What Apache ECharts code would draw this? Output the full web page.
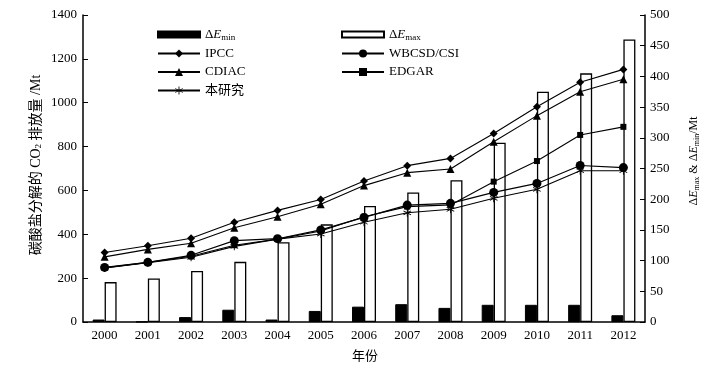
<!DOCTYPE html>
<html><head><meta charset="utf-8">
<script src="https://cdn.jsdelivr.net/npm/echarts@6/dist/echarts.min.js"></script>
<style>html,body{margin:0;padding:0;background:#fff}#c{width:725px;height:370px}</style>
</head><body><div id="c"></div>
<script>
const years = ['2000','2001','2002','2003','2004','2005','2006','2007','2008','2009','2010','2011','2012'];
const dEmin = [4, 0.5, 8, 20, 4, 18, 25, 29, 23, 28, 28, 28, 11];
const dEmax = [65, 71, 83, 98, 130, 159, 189, 211, 231, 292, 375, 405, 460];
const ipcc  = [317, 348, 382, 455, 509, 559, 643, 713, 746, 860, 982, 1093, 1152];
const cdiac = [297, 331, 359, 430, 480, 537, 622, 681, 698, 822, 941, 1050, 1107];
const wbcsd = [249, 272, 304, 371, 380, 420, 477, 533, 541, 591, 632, 714, 704];
const edgar = [247, 272, 300, 350, 378, 415, 480, 526, 534, 640, 734, 853, 890];
const study = [246, 270, 295, 345, 378, 401, 455, 498, 514, 564, 605, 690, 690];
const leftTicks = [0, 1400, 200];
const rightTicks = [0, 500, 50];

const FONT = '"Liberation Serif", "Times New Roman", "Noto Sans CJK SC", serif';
const star = 'path://M-0.5,-5L0.5,-5L0.5,5L-0.5,5Z M4.08,2.93L4.58,2.07L-4.08,-2.93L-4.58,-2.07Z M-4.58,2.07L-4.08,2.93L4.58,-2.07L4.08,-2.93Z';
const richT = {
  n: {fontFamily: FONT, fontSize: 13, color: '#000'},
  i: {fontFamily: FONT, fontSize: 13, fontStyle: 'italic', color: '#000'},
  s: {fontFamily: FONT, fontSize: 9, color: '#000', padding: [6, 0, 0, 0]}
};
const names = {min: 'ΔEmin', max: 'ΔEmax'};
function fmt(name) {
  if (name === names.min) return '{n|Δ}{i|E}{s|min}';
  if (name === names.max) return '{n|Δ}{i|E}{s|max}';
  return '{n|' + name + '}';
}
function lineS(name, data, symbol, size) {
  return {name, type: 'line', yAxisIndex: 0, data, symbol, symbolSize: size, z: 5,
    lineStyle: {color: '#000', width: 1.1}, itemStyle: {color: '#000'}};
}
function leg(data, left, top, h) {
  return {data, orient: 'vertical', left, top, itemWidth: 42, itemHeight: h, itemGap: 5.5,
    formatter: fmt, textStyle: {rich: richT, fontFamily: FONT, fontSize: 13}};
}
const plain = v => String(v);
const chart = echarts.init(document.getElementById('c'));
chart.setOption({
  animation: false,
  backgroundColor: '#fff',
  textStyle: {fontFamily: FONT},
  grid: {left: 83, right: 80, top: 15, bottom: 48},
  legend: [
    leg([{name: names.min, icon: 'rect'}], 152, 23, 6),
    leg([{name: names.max, icon: 'rect'}], 336, 23, 6),
    leg(['IPCC', 'CDIAC', '本研究'], 152, 42, 10),
    leg(['WBCSD/CSI', 'EDGAR'], 336, 42, 10)
  ],
  xAxis: {type: 'category', data: years, boundaryGap: true,
    axisLine: {lineStyle: {color: '#000', width: 1.5}},
    axisTick: {inside: true, length: 4, lineStyle: {color: '#000'}},
    axisLabel: {color: '#000', fontFamily: FONT, fontSize: 13, margin: 7}},
  yAxis: [
    {type: 'value', min: leftTicks[0], max: leftTicks[1], interval: leftTicks[2], position: 'left',
     splitLine: {show: false},
     axisLine: {show: true, lineStyle: {color: '#000', width: 1.5}},
     axisTick: {show: true, inside: true, length: 5, lineStyle: {color: '#000'}},
     axisLabel: {color: '#000', fontFamily: FONT, fontSize: 13, margin: 6, formatter: plain}},
    {type: 'value', min: rightTicks[0], max: rightTicks[1], interval: rightTicks[2], position: 'right',
     splitLine: {show: false},
     axisLine: {show: true, lineStyle: {color: '#000', width: 1.5}},
     axisTick: {show: true, inside: true, length: 5, lineStyle: {color: '#000'}},
     axisLabel: {color: '#000', fontFamily: FONT, fontSize: 13, margin: 5, formatter: plain}}
  ],
  series: [
    {name: names.min, type: 'bar', yAxisIndex: 1, data: dEmin, barWidth: 12, barGap: '0%',
     itemStyle: {color: '#000', borderColor: '#000', borderWidth: 1}},
    {name: names.max, type: 'bar', yAxisIndex: 1, data: dEmax, barWidth: 12,
     itemStyle: {color: '#fff', borderColor: '#000', borderWidth: 1.3}},
    lineS('IPCC', ipcc, 'diamond', 8),
    lineS('WBCSD/CSI', wbcsd, 'circle', 9),
    lineS('CDIAC', cdiac, 'triangle', 8),
    lineS('EDGAR', edgar, 'rect', 6),
    lineS('本研究', study, star, 8)
  ],
  graphic: [
    {type: 'text', x: 36, y: 165, rotation: Math.PI / 2,
     style: {text: '碳酸盐分解的 CO{s|2} 排放量 /Mt', fill: '#000', font: '14px ' + FONT, align: 'center', verticalAlign: 'middle',
       rich: {s: {fontSize: 9, fontFamily: FONT, padding: [6, 0, 0, 0]}}}},
    {type: 'text', x: 694, y: 161, rotation: Math.PI / 2,
     style: {text: 'Δ{i|E}{s|max} & Δ{i|E}{s|min}/Mt', fill: '#000', font: '12px ' + FONT, align: 'center', verticalAlign: 'middle',
       rich: {i: {fontStyle: 'italic', fontSize: 12, fontFamily: FONT}, s: {fontSize: 8, fontFamily: FONT, padding: [5, 0, 0, 0]}}}},
    {type: 'text', x: 365, y: 357,
     style: {text: '年份', fill: '#000', font: '13px ' + FONT, align: 'center', verticalAlign: 'middle'}}
  ]
});
</script></body></html>
